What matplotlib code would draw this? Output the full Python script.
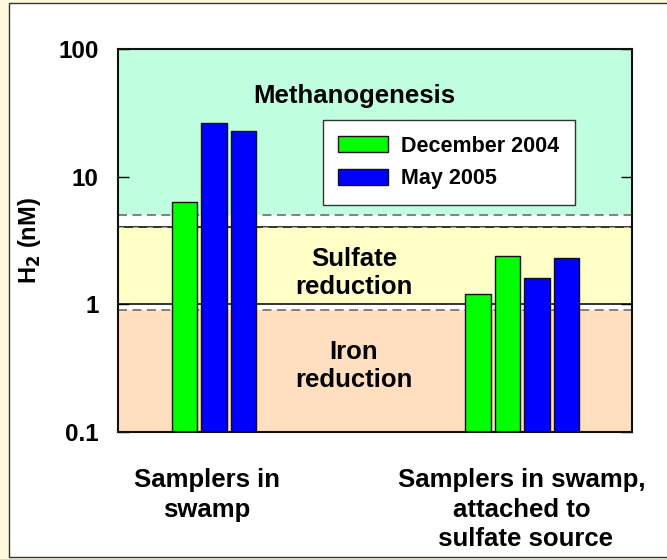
import matplotlib
matplotlib.use('Agg')
import matplotlib.pyplot as plt
from matplotlib.patches import Rectangle, Patch

plt.rcParams['font.family'] = ['Liberation Sans', 'DejaVu Sans']
plt.rcParams['font.weight'] = 'bold'

# data
group_labels = ['Samplers in\nswamp', 'Samplers in swamp,\nattached to\n sulfate source']
swamp_vals = [6.3, 26.5, 22.8]
swamp_kind = ['dec', 'may', 'may']
sulfate_vals = [1.2, 2.4, 1.6, 2.3]
sulfate_kind = ['dec', 'dec', 'may', 'may']
series_names = {'dec': 'December 2004', 'may': 'May 2005'}
series_colors = {'dec': '#00FF00', 'may': '#0000FF'}

# redox zones (lower, upper H2 in nM)
zones = [
    ('Methanogenesis', 5.0, 100.0, '#BFFFE0'),
    ('Sulfate\nreduction', 1.0, 4.0, '#FFFFC8'),
    ('Iron\nreduction', 0.1, 0.9, '#FFDFC0'),
]
yticks = [0.1, 1, 10, 100]
ytick_labels = ['0.1', '1', '10', '100']

W, H = 667, 559
fig = plt.figure(figsize=(W / 100, H / 100), dpi=100, facecolor='#FFF8DC')

# white panel behind everything
fig.patches.append(Rectangle((9 / W, 2 / H), 1.0, 1 - 5 / H, transform=fig.transFigure,
                             facecolor='white', edgecolor='#333333', lw=1.0, zorder=-5))

ax = fig.add_axes([118 / W, 1 - 432 / H, 514 / W, 383 / H])
ax.set_zorder(1)
ax.set_yscale('log')
ax.set_ylim(0.1, 100)
ax.set_xlim(0, 17.42)

# zone bands
for name, lo, hi, col in zones:
    ax.axhspan(lo, hi, facecolor=col, edgecolor='none', zorder=0)
ax.axhline(4.0, color='#222222', lw=1.3, zorder=1)
ax.axhline(1.0, color='#222222', lw=1.3, zorder=1)
for yv in [5.0, 0.9]:
    ax.axhline(yv, color='#777777', lw=1.3, ls=(0, (5, 3)), zorder=1)
ax.axhline(4.0, color='#AAAAAA', lw=0.8, ls=(0, (5, 8)), zorder=1.1)

zone_y = [0.860, 0.360, 0.118]
for (name, lo, hi, col), yy in zip(zones, zone_y):
    ax.text(0.459, yy, name, transform=ax.transAxes, ha='center', va='baseline',
            fontsize=18.5, fontweight='bold', linespacing=1.2, zorder=2)

# bars
width = 0.87
centers = [3.25, 13.7]
for c, vals, kinds in [(centers[0], swamp_vals, swamp_kind),
                       (centers[1], sulfate_vals, sulfate_kind)]:
    n = len(vals)
    for i, (v, k) in enumerate(zip(vals, kinds)):
        x = c + (i - (n - 1) / 2)
        ax.bar(x, v - 0.1, bottom=0.1, width=width, color=series_colors[k],
               edgecolor='#111111', lw=1.0, zorder=3)

for c, lab in zip([3.02, 13.7], group_labels):
    ax.text(c, -0.095, lab, transform=ax.get_xaxis_transform(), ha='center', va='top',
            fontsize=18.5, fontweight='bold', linespacing=1.27)

ax.set_xticks([])
ax.set_yticks(yticks)
ax.set_yticklabels(ytick_labels)
ax.minorticks_off()
ax.tick_params(axis='y', which='major', direction='in', length=8, width=1,
               labelsize=17.5, pad=14, right=True)
for lab in ax.get_yticklabels():
    lab.set_fontweight('bold')
for sp in ax.spines.values():
    sp.set_linewidth(1.5)
    sp.set_color('#111111')
    sp.set_zorder(4)

ax.set_ylabel('H$_\\mathbf{2}$ (nM)', fontsize=17, fontweight='bold', labelpad=0)
ax.yaxis.set_label_coords(-0.146, 0.5)

handles = [Patch(facecolor=series_colors[k], edgecolor='#111111', lw=1.0,
                 label=series_names[k]) for k in ['dec', 'may']]
leg = fig.legend(handles=handles, loc='upper left', bbox_to_anchor=(322.7 / W, 1 - 120 / H),
                 fontsize=15.5, frameon=True, fancybox=False, framealpha=1,
                 borderpad=0.72, handlelength=2.33, handleheight=0.74, handletextpad=0.6,
                 labelspacing=0.55, borderaxespad=0)
leg.get_frame().set_edgecolor('#333333')
leg.get_frame().set_linewidth(1.0)
leg.set_zorder(5)
for t in leg.get_texts():
    t.set_fontweight('bold')

fig.savefig('out.png', dpi=100, facecolor=fig.get_facecolor())
